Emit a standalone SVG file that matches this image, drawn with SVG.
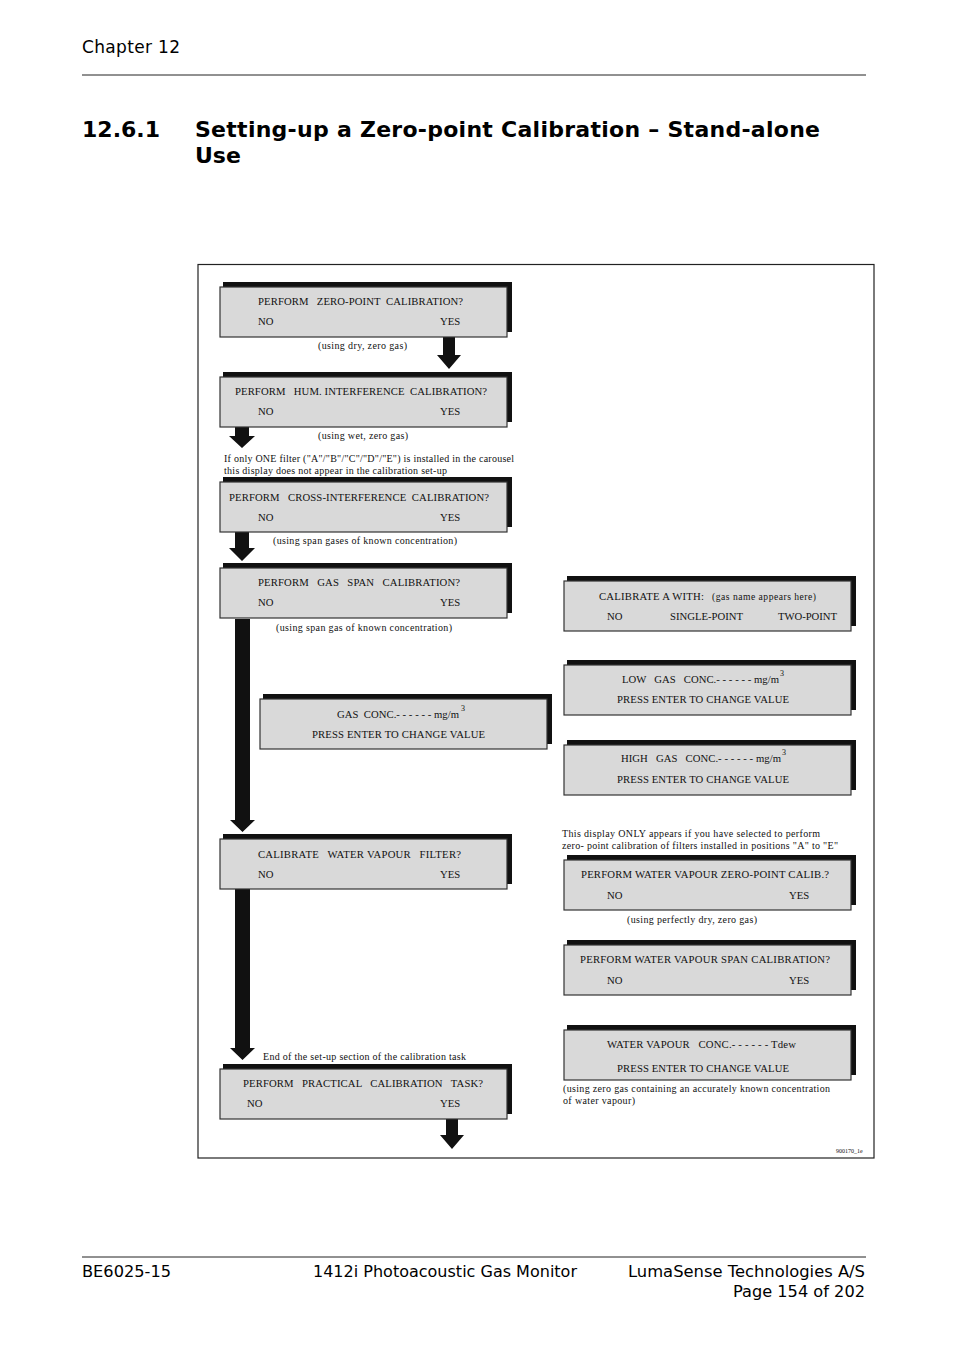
<svg xmlns="http://www.w3.org/2000/svg" width="954" height="1350" viewBox="0 0 954 1350">
<defs>
<style>
.hdr{font-family:"DejaVu Sans",Verdana,sans-serif;font-size:17px;fill:#000}
.ttl{font-family:"DejaVu Sans",Verdana,sans-serif;font-size:22px;font-weight:bold;fill:#000}
.ftr{font-family:"DejaVu Sans",sans-serif;font-size:16.5px;fill:#000}
.bx{font-family:"Liberation Serif","Times New Roman",serif;font-size:10.7px;fill:#111}
.cap{font-family:"Liberation Serif","Times New Roman",serif;font-size:10px;fill:#111}
.sm{font-family:"Liberation Serif","Times New Roman",serif;font-size:9.6px;fill:#111}
.sup{font-family:"Liberation Serif","Times New Roman",serif;font-size:8px;fill:#111}
.tiny{font-family:"Liberation Serif","Times New Roman",serif;font-size:6px;fill:#111}
.box{fill:#d9d9d9;stroke:#333;stroke-width:1.2}
.shd{fill:#111}
.arr{fill:#111}
</style>
<g id="panel">
<rect class="shd" x="3" y="-5" width="289" height="50"/>
<rect class="box" x="0" y="0" width="287" height="50"/>
</g>
</defs>

<!-- page header -->
<text class="hdr" x="82" y="53" textLength="98">Chapter 12</text>
<line x1="82" y1="75" x2="866" y2="75" stroke="#222" stroke-width="1"/>
<text class="ttl" x="82" y="137" textLength="78">12.6.1</text>
<text class="ttl" x="195" y="137" textLength="625">Setting-up a Zero-point Calibration – Stand-alone</text>
<text class="ttl" x="195" y="163">Use</text>

<!-- frame -->
<rect x="198" y="264.5" width="676" height="893.5" fill="none" stroke="#222" stroke-width="1.2"/>

<!-- connectors -->
<g id="connectors">
<path class="arr" d="M443,337 H455 V355 H461 L449,369 L437,355 H443 Z"/>
<path class="arr" d="M235,427 H249 V436 H255 L242,448 L229,436 H235 Z"/>
<path class="arr" d="M235,531 H249 V548 H255 L242,561 L229,548 H235 Z"/>
<path class="arr" d="M235,619 H250 V820 H255 L242.5,832 L230,820 H235 Z"/>
<path class="arr" d="M235,888 H250 V1048 H255 L242.5,1060 L230,1048 H235 Z"/>
<path class="arr" d="M446,1118 H458 V1135 H464 L452,1149 L440,1135 H446 Z"/>
</g>

<!-- left column -->
<g id="zero-point">
<use href="#panel" x="220" y="287"/>
<text class="bx" x="258" y="305" textLength="205" xml:space="preserve">PERFORM   ZERO-POINT  CALIBRATION?</text>
<text class="bx" x="258" y="325">NO</text>
<text class="bx" x="440" y="325">YES</text>
<text class="cap" x="318" y="348.5" textLength="89">(using dry, zero gas)</text>
</g>

<g id="hum-interference">
<use href="#panel" x="220" y="377"/>
<text class="bx" x="235" y="395" textLength="252" xml:space="preserve">PERFORM   HUM. INTERFERENCE  CALIBRATION?</text>
<text class="bx" x="258" y="415">NO</text>
<text class="bx" x="440" y="415">YES</text>
<text class="cap" x="318" y="438.5" textLength="90">(using wet, zero gas)</text>
<text class="cap" x="224" y="462" textLength="290">If only ONE filter ("A"/"B"/"C"/"D"/"E") is installed in the carousel</text>
<text class="cap" x="224" y="474" textLength="223">this display does not appear in the calibration set-up</text>
</g>

<g id="cross-interference">
<use href="#panel" x="220" y="482"/>
<text class="bx" x="229" y="500.5" textLength="260" xml:space="preserve">PERFORM   CROSS-INTERFERENCE  CALIBRATION?</text>
<text class="bx" x="258" y="521">NO</text>
<text class="bx" x="440" y="521">YES</text>
<text class="cap" x="273" y="543.5" textLength="184">(using span gases of known concentration)</text>
</g>

<g id="gas-span">
<use href="#panel" x="220" y="568"/>
<text class="bx" x="258" y="586" textLength="202" xml:space="preserve">PERFORM   GAS   SPAN   CALIBRATION?</text>
<text class="bx" x="258" y="606">NO</text>
<text class="bx" x="440" y="606">YES</text>
<text class="cap" x="276" y="630.5" textLength="176">(using span gas of known concentration)</text>
</g>

<g id="gas-conc">
<use href="#panel" x="260" y="699"/>
<text class="bx" x="337" y="717.5" textLength="122" xml:space="preserve">GAS  CONC.- - - - - - mg/m</text>
<text class="sup" x="461" y="711">3</text>
<text class="bx" x="312" y="737.5" textLength="173">PRESS ENTER TO CHANGE VALUE</text>
</g>

<g id="water-vapour-filter">
<use href="#panel" x="220" y="839"/>
<text class="bx" x="258" y="857.5" textLength="203" xml:space="preserve">CALIBRATE   WATER VAPOUR   FILTER?</text>
<text class="bx" x="258" y="877.5">NO</text>
<text class="bx" x="440" y="877.5">YES</text>
</g>

<g id="practical-task">
<text class="cap" x="263" y="1059.5" textLength="203">End of the set-up section of the calibration task</text>
<use href="#panel" x="220" y="1069"/>
<text class="bx" x="243" y="1087" textLength="240" xml:space="preserve">PERFORM   PRACTICAL   CALIBRATION   TASK?</text>
<text class="bx" x="247" y="1107">NO</text>
<text class="bx" x="440" y="1107">YES</text>
</g>

<!-- right column -->
<g id="calibrate-with">
<use href="#panel" x="564" y="581"/>
<text class="bx" x="599" y="599.5" textLength="105">CALIBRATE A WITH:</text>
<text class="sm" x="712" y="599.5" textLength="104">(gas name appears here)</text>
<text class="bx" x="607" y="619.5">NO</text>
<text class="bx" x="670" y="619.5" textLength="73">SINGLE-POINT</text>
<text class="bx" x="778" y="619.5" textLength="59">TWO-POINT</text>
</g>

<g id="low-gas-conc">
<use href="#panel" x="564" y="665"/>
<text class="bx" x="622" y="682.5" textLength="157" xml:space="preserve">LOW   GAS   CONC.- - - - - - mg/m</text>
<text class="sup" x="780" y="676">3</text>
<text class="bx" x="617" y="702.5" textLength="172">PRESS ENTER TO CHANGE VALUE</text>
</g>

<g id="high-gas-conc">
<use href="#panel" x="564" y="745"/>
<text class="bx" x="621" y="762" textLength="160" xml:space="preserve">HIGH   GAS   CONC.- - - - - - mg/m</text>
<text class="sup" x="782" y="755">3</text>
<text class="bx" x="617" y="782.5" textLength="172">PRESS ENTER TO CHANGE VALUE</text>
</g>

<g id="wv-zero-point">
<text class="cap" x="562" y="837" textLength="258">This display ONLY appears if you have selected to perform</text>
<text class="cap" x="562" y="849" textLength="276">zero- point calibration of filters installed in positions "A" to "E"</text>
<use href="#panel" x="564" y="860"/>
<text class="bx" x="581" y="878" textLength="248">PERFORM WATER VAPOUR ZERO-POINT CALIB.?</text>
<text class="bx" x="607" y="898.5">NO</text>
<text class="bx" x="789" y="898.5">YES</text>
<text class="cap" x="627" y="922.5" textLength="130">(using perfectly dry, zero gas)</text>
</g>

<g id="wv-span">
<use href="#panel" x="564" y="945"/>
<text class="bx" x="580" y="963" textLength="250">PERFORM WATER VAPOUR SPAN CALIBRATION?</text>
<text class="bx" x="607" y="983.5">NO</text>
<text class="bx" x="789" y="983.5">YES</text>
</g>

<g id="wv-conc">
<use href="#panel" x="564" y="1030"/>
<text class="bx" x="607" y="1048" textLength="189" xml:space="preserve">WATER VAPOUR   CONC.- - - - - - Tdew</text>
<text class="bx" x="617" y="1071.5" textLength="172">PRESS ENTER TO CHANGE VALUE</text>
<text class="cap" x="563" y="1092" textLength="267">(using zero gas containing an accurately known concentration</text>
<text class="cap" x="563" y="1104" textLength="72">of water vapour)</text>
</g>

<text class="tiny" x="836" y="1153">900170_1e</text>

<!-- footer -->
<line x1="82" y1="1257" x2="866" y2="1257" stroke="#222" stroke-width="1"/>
<text class="ftr" x="82" y="1277" textLength="89" lengthAdjust="spacingAndGlyphs">BE6025-15</text>
<text class="ftr" x="313" y="1277" textLength="264" lengthAdjust="spacingAndGlyphs">1412i Photoacoustic Gas Monitor</text>
<text class="ftr" x="628" y="1277" textLength="237" lengthAdjust="spacingAndGlyphs">LumaSense Technologies A/S</text>
<text class="ftr" x="733" y="1297" textLength="132" lengthAdjust="spacingAndGlyphs">Page 154 of 202</text>
</svg>
